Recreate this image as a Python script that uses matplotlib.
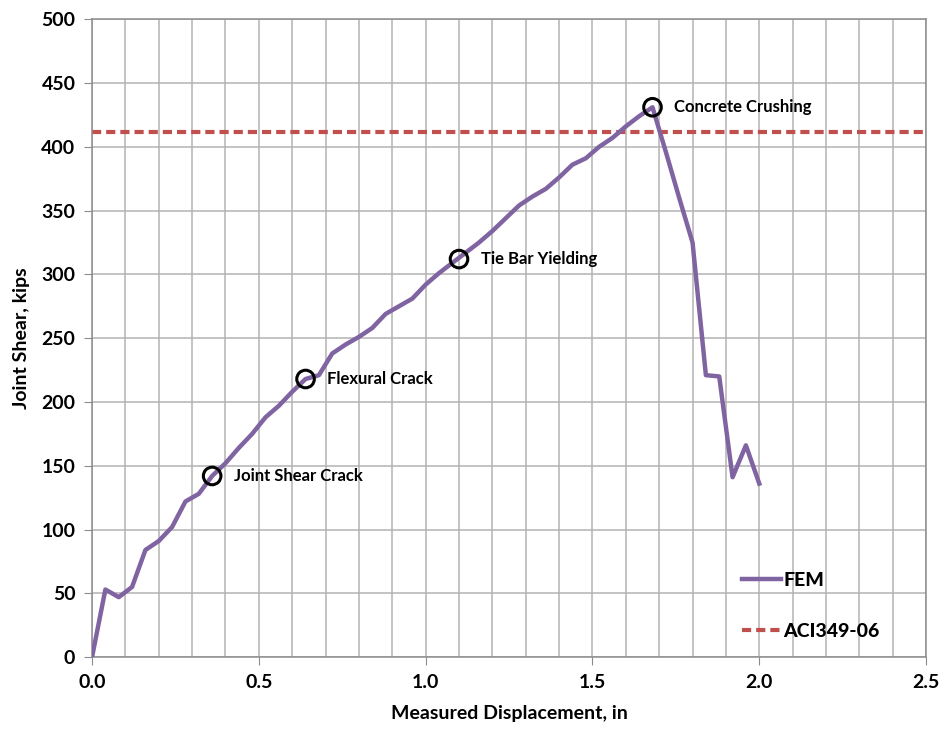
import numpy as np
import matplotlib
matplotlib.use("Agg")
import matplotlib.pyplot as plt
from matplotlib.ticker import MultipleLocator

plt.rcParams['font.family'] = ['Lato', 'DejaVu Sans']

# FEM curve (displacement in, shear kips)
disp = [0.00, 0.04, 0.08, 0.12, 0.16, 0.20, 0.24, 0.28, 0.32, 0.36,
        0.40, 0.44, 0.48, 0.52, 0.56, 0.60, 0.64, 0.68, 0.72, 0.76,
        0.80, 0.84, 0.88, 0.92, 0.96, 1.00, 1.04, 1.08, 1.12, 1.16,
        1.20, 1.24, 1.28, 1.32, 1.36, 1.40, 1.44, 1.48, 1.52, 1.56,
        1.60, 1.64, 1.68, 1.72, 1.76, 1.80, 1.84, 1.88, 1.92, 1.96, 2.00]
shear = [0, 53, 47, 55, 84, 91, 102, 122, 128, 142,
         152, 164, 175, 188, 197, 208, 218, 221, 238, 245,
         251, 258, 269, 275, 281, 292, 301, 309, 317, 325,
         334, 344, 354, 361, 367, 376, 386, 391, 400, 407,
         416, 424, 431, 396, 360, 325, 221, 220, 141, 166, 136]

aci_value = 412

event_names = ["Joint Shear Crack", "Flexural Crack", "Tie Bar Yielding", "Concrete Crushing"]
event_x = [0.36, 0.64, 1.10, 1.68]
event_y = [142, 218, 312, 431]

fig = plt.figure(figsize=(9.44, 7.40), dpi=100)
ax = fig.add_axes([0.0975, 0.112, 0.8835, 0.862])

grid_col = '#b3b3b3'
ax.set_xlim(0, 2.5)
ax.set_ylim(0, 500)
ax.xaxis.set_major_locator(MultipleLocator(0.5))
ax.xaxis.set_minor_locator(MultipleLocator(0.1))
ax.yaxis.set_major_locator(MultipleLocator(50))
ax.grid(which='both', axis='x', color=grid_col, linewidth=1.1)
ax.grid(which='major', axis='y', color=grid_col, linewidth=1.1)
ax.set_axisbelow(True)
for s in ax.spines.values():
    s.set_color('#8c8c8c')
    s.set_linewidth(1.1)
ax.tick_params(which='major', length=6, color='#8c8c8c', labelsize=14, pad=6)
ax.tick_params(which='minor', length=0)
for lab in ax.get_xticklabels() + ax.get_yticklabels():
    lab.set_fontweight('bold')

ax.plot(disp, shear, color='#8064A2', linewidth=3.2, label='FEM',
        solid_joinstyle='round', zorder=3)
ax.axhline(aci_value, color='#C0504D', linewidth=3.0, linestyle=(0, (2.2, 1.2)),
           label='ACI349-06', zorder=2)

ax.scatter(event_x, event_y, s=160, facecolors='none', edgecolors='black',
           linewidths=2.2, zorder=4)
for name, ex, ey in zip(event_names, event_x, event_y):
    ax.text(ex + 0.065, ey, name, fontsize=12, fontweight='bold',
            va='center', ha='left', zorder=5)

ax.set_xlabel('Measured Displacement, in', fontsize=14, fontweight='bold', labelpad=10)
ax.set_ylabel('Joint Shear, kips', fontsize=14, fontweight='bold', labelpad=8)

leg = ax.legend(loc='lower right', bbox_to_anchor=(0.965, 0.0), frameon=False,
                prop={'weight': 'black', 'size': 14}, handlelength=2.0,
                handletextpad=0.1, labelspacing=1.75)

fig.savefig('out.png', dpi=100)
